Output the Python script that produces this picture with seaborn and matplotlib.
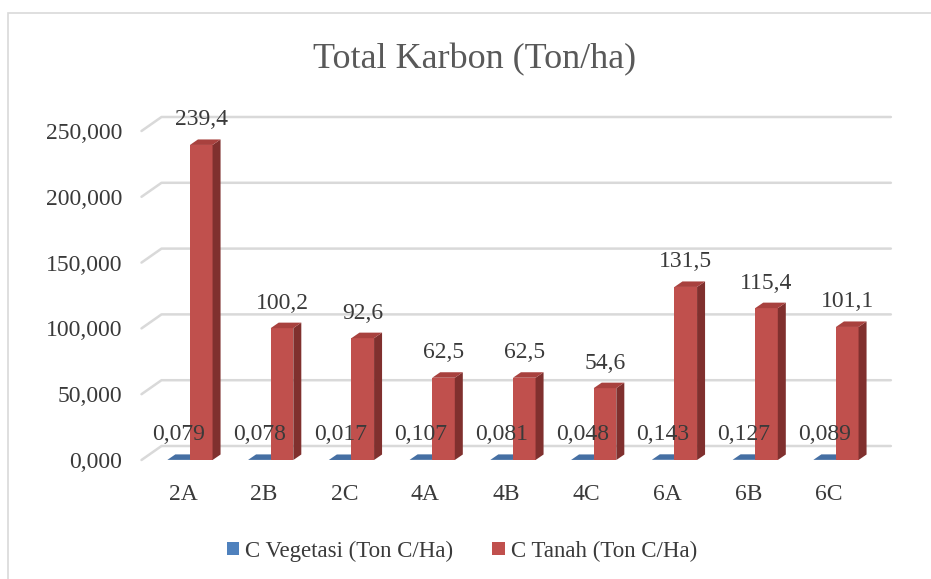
import numpy as np
import pandas as pd
import seaborn as sns
import matplotlib.pyplot as plt
from matplotlib.patches import Polygon, Rectangle

# === Data ===
lokasi = ["2A", "2B", "2C", "4A", "4B", "4C", "6A", "6B", "6C"]
c_vegetasi = [0.079, 0.078, 0.017, 0.107, 0.081, 0.048, 0.143, 0.127, 0.089]
c_tanah = [239.4, 100.2, 92.6, 62.5, 62.5, 54.6, 131.5, 115.4, 101.1]
seri = ["C Vegetasi (Ton C/Ha)", "C Tanah (Ton C/Ha)"]
y_ticks = [0, 50, 100, 150, 200, 250]

df = pd.DataFrame({
    "lokasi": lokasi * 2,
    "nilai": c_vegetasi + c_tanah,
    "seri": [seri[0]] * len(lokasi) + [seri[1]] * len(lokasi),
})

# === Style ===
sns.set_style("white")
plt.rcParams["font.family"] = ["Liberation Serif", "DejaVu Serif"]
txt = "#3A3A3A"
blue, red = "#4F81BD", "#C0504D"
face_side = {blue: "#3A6594", red: "#80302E"}
face_top = {blue: "#456FA3", red: "#A8413E"}

W, H = 931, 579
fig = plt.figure(figsize=(W / 100, H / 100), dpi=100)
# axes placed so that 0 -> y=460px, 250 -> y=131px, category 0 at x=190px
px_x, left_px = 80.75, 141.5
ax = fig.add_axes([left_px / W, (H - 460) / H, 9.1 * px_x / W, 329 / H])

sns.barplot(data=df, x="lokasi", y="nilai", hue="seri", palette=[blue, red],
            width=0.56, saturation=1, linewidth=0, ax=ax, zorder=2)
ax.set_xlim(-0.6, 8.5)
ax.set_ylim(0, 250)
px_y = 329 / 250

# depth of bars and of back wall, in data units
dx, dy = 8 / px_x, 5.5 / px_y
bx, by = 20 / px_x, 14 / px_y

# === 3D-ish gridlines (floor slant + back wall) ===
for v in y_ticks:
    ax.plot([-0.6, -0.6 + bx, 8.68], [v, v + by, v + by],
            color="#D9D9D9", lw=1.8, zorder=0.5, clip_on=False)

# === Bar side/top faces and value labels ===
for k, cont in enumerate(ax.containers):
    col = [blue, red][k]
    for bar in cont:
        x0, w, h = bar.get_x(), bar.get_width(), bar.get_height()
        z = 2 + k
        bar.set_zorder(z)
        ax.add_patch(Polygon([(x0 + w, 0), (x0 + w, h), (x0 + w + dx, h + dy),
                              (x0 + w + dx, dy)], closed=True,
                             facecolor=face_side[col], edgecolor="none",
                             zorder=z, clip_on=False))
        ax.add_patch(Polygon([(x0, h), (x0 + w, h), (x0 + w + dx, h + dy),
                              (x0 + dx, h + dy)], closed=True,
                             facecolor=face_top[col], edgecolor="none",
                             zorder=z, clip_on=False))
        lab = f"{h:.3f}" if k == 0 else f"{h:.1f}"
        ax.annotate(lab.replace(".", ","), (x0 + w / 2, h), xytext=(0, 18),
                    textcoords="offset points", ha="center", va="center",
                    fontsize=17, color=txt, zorder=5, annotation_clip=False)

# === Axes ===
ax.set_yticks(y_ticks)
ax.set_yticklabels([f"{v:.3f}".replace(".", ",") for v in y_ticks])
ax.set_xticks(np.arange(len(lokasi)) - 7 / px_x)
ax.set_xticklabels(lokasi)
ax.tick_params(axis="y", length=0, pad=14, labelsize=17, labelcolor=txt)
ax.tick_params(axis="x", length=0, pad=17, labelsize=17, labelcolor=txt)
ax.set_xlabel("")
ax.set_ylabel("")
sns.despine(ax=ax, left=True, bottom=True)

# === Legend ===
sns.move_legend(ax, "center", bbox_to_anchor=(0.496, 1 - 551 / H),
                bbox_transform=fig.transFigure, ncol=2, frameon=False,
                title=None, fontsize=16.5, handlelength=0.55, handleheight=0.55,
                handletextpad=0.25, columnspacing=1.7, labelcolor=txt)

# === Title and chart frame ===
fig.text(475 / W, 1 - 60 / H, "Total Karbon (Ton/ha)", ha="center",
         va="center", fontsize=26, color="#595959")
fig.patches.append(Rectangle((8 / W, -0.1), 1.2, 1 - 13 / H + 0.1,
                             transform=fig.transFigure, fill=False,
                             edgecolor="#D9D9D9", lw=1.2))

fig.savefig("out.png", dpi=100)
